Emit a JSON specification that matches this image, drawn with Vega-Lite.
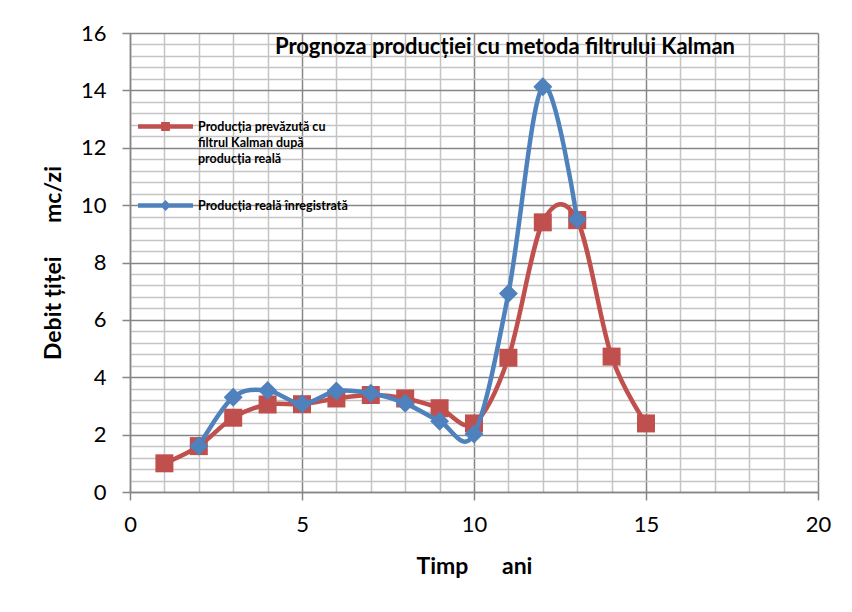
{
  "$schema": "https://vega.github.io/schema/vega-lite/v6.json",
  "width": 688,
  "height": 459,
  "autosize": "none",
  "padding": {"left": 130, "top": 33, "right": 34, "bottom": 120},
  "background": "white",
  "config": {
    "font": "Lato",
    "view": {"stroke": null},
    "axis": {"labelFont": "Lato", "titleFont": "Lato"}
  },
  "title": {
    "text": "Prognoza producției cu metoda filtrului Kalman",
    "font": "Lato",
    "fontSize": 22,
    "fontWeight": "bold",
    "color": "black",
    "anchor": "middle",
    "baseline": "alphabetic",
    "offset": -54,
    "dx": 31
  },
  "data": {
    "values": [
      {"t": 1, "v": 1.0, "serie": "Producția prevăzută cu filtrul Kalman după producția reală"},
      {"t": 2, "v": 1.6, "serie": "Producția prevăzută cu filtrul Kalman după producția reală"},
      {"t": 3, "v": 2.59, "serie": "Producția prevăzută cu filtrul Kalman după producția reală"},
      {"t": 4, "v": 3.05, "serie": "Producția prevăzută cu filtrul Kalman după producția reală"},
      {"t": 5, "v": 3.06, "serie": "Producția prevăzută cu filtrul Kalman după producția reală"},
      {"t": 6, "v": 3.26, "serie": "Producția prevăzută cu filtrul Kalman după producția reală"},
      {"t": 7, "v": 3.38, "serie": "Producția prevăzută cu filtrul Kalman după producția reală"},
      {"t": 8, "v": 3.26, "serie": "Producția prevăzută cu filtrul Kalman după producția reală"},
      {"t": 9, "v": 2.92, "serie": "Producția prevăzută cu filtrul Kalman după producția reală"},
      {"t": 10, "v": 2.39, "serie": "Producția prevăzută cu filtrul Kalman după producția reală"},
      {"t": 11, "v": 4.68, "serie": "Producția prevăzută cu filtrul Kalman după producția reală"},
      {"t": 12, "v": 9.4, "serie": "Producția prevăzută cu filtrul Kalman după producția reală"},
      {"t": 13, "v": 9.48, "serie": "Producția prevăzută cu filtrul Kalman după producția reală"},
      {"t": 14, "v": 4.72, "serie": "Producția prevăzută cu filtrul Kalman după producția reală"},
      {"t": 15, "v": 2.39, "serie": "Producția prevăzută cu filtrul Kalman după producția reală"},
      {"t": 2, "v": 1.6, "serie": "Producția reală înregistrată"},
      {"t": 3, "v": 3.3, "serie": "Producția reală înregistrată"},
      {"t": 4, "v": 3.54, "serie": "Producția reală înregistrată"},
      {"t": 5, "v": 3.07, "serie": "Producția reală înregistrată"},
      {"t": 6, "v": 3.52, "serie": "Producția reală înregistrată"},
      {"t": 7, "v": 3.44, "serie": "Producția reală înregistrată"},
      {"t": 8, "v": 3.09, "serie": "Producția reală înregistrată"},
      {"t": 9, "v": 2.47, "serie": "Producția reală înregistrată"},
      {"t": 10, "v": 2.02, "serie": "Producția reală înregistrată"},
      {"t": 11, "v": 6.92, "serie": "Producția reală înregistrată"},
      {"t": 12, "v": 14.13, "serie": "Producția reală înregistrată"},
      {"t": 13, "v": 9.5, "serie": "Producția reală înregistrată"}
    ]
  },
  "encoding": {
    "x": {
      "field": "t",
      "type": "quantitative",
      "scale": {"domain": [0, 20], "nice": false, "zero": false},
      "axis": {
        "title": "Timp\u00a0\u00a0\u00a0\u00a0\u00a0 ani",
        "titleFontSize": 23,
        "titleFontWeight": "bold",
        "titleColor": "black",
        "titlePadding": 20,
        "values": [0,1,2,3,4,5,6,7,8,9,10,11,12,13,14,15,16,17,18,19,20],
        "labelExpr": "datum.value % 5 === 0 ? format(datum.value, 'd') : ''",
        "labelFontSize": 22,
        "labelColor": "black",
        "labelFlush": false,
        "labelOverlap": false,
        "labelPadding": 14,
        "tickSize": 8,
        "tickWidth": 1.5,
        "tickColor": "#868686",
        "tickOpacity": {"condition": {"test": "datum.value % 5 === 0", "value": 1}, "value": 0},
        "domainColor": "#868686",
        "domainWidth": 1.5,
        "grid": true,
        "gridWidth": 1.5,
        "gridColor": {"condition": {"test": "datum.value % 5 === 0", "value": "#868686"}, "value": "#c4c4c4"}
      }
    },
    "y": {
      "field": "v",
      "type": "quantitative",
      "scale": {"domain": [0, 16], "nice": false},
      "axis": {
        "title": "Debit țiței\u00a0\u00a0\u00a0\u00a0\u00a0 mc/zi",
        "titleFontSize": 23,
        "titleFontWeight": "bold",
        "titleColor": "black",
        "titlePadding": 15,
        "values": [0,0.4,0.8,1.2,1.6,2,2.4,2.8,3.2,3.6,4,4.4,4.8,5.2,5.6,6,6.4,6.8,7.2,7.6,8,8.4,8.8,9.2,9.6,10,10.4,10.8,11.2,11.6,12,12.4,12.8,13.2,13.6,14,14.4,14.8,15.2,15.6,16],
        "labelExpr": "datum.value % 2 === 0 ? format(datum.value, 'd') : ''",
        "labelFontSize": 22,
        "labelColor": "black",
        "labelFlush": false,
        "labelOverlap": false,
        "labelPadding": 16,
        "tickSize": 8,
        "tickWidth": 1.5,
        "tickColor": "#868686",
        "tickOpacity": {"condition": {"test": "datum.value % 2 === 0", "value": 1}, "value": 0},
        "domainColor": "#868686",
        "domainWidth": 1.5,
        "grid": true,
        "gridWidth": 1.5,
        "gridColor": {"condition": {"test": "datum.value % 2 === 0", "value": "#868686"}, "value": "#c4c4c4"}
      }
    },
    "color": {
      "field": "serie",
      "type": "nominal",
      "scale": {
        "domain": ["Producția prevăzută cu filtrul Kalman după producția reală", "Producția reală înregistrată"],
        "range": ["#C0504D", "#4F81BD"]
      },
      "legend": {
        "title": null,
        "orient": "none",
        "legendX": 8,
        "legendY": 66,
        "direction": "vertical",
        "symbolSize": 3025,
        "labelFont": "Lato",
        "labelFontSize": 12.5,
        "labelFontWeight": "bold",
        "labelColor": "black",
        "labelLimit": 400,
        "labelOffset": 5,
        "rowPadding": 13,
        "labelExpr": "datum.value === 'Producția reală înregistrată' ? datum.label : ['Producția prevăzută cu', 'filtrul Kalman după', 'producția reală']",
        "encode": {
          "symbols": {
            "update": {
              "shape": {"signal": "datum.value === 'Producția reală înregistrată' ? 'M-1,-0.085H1V0.085H-1Z M0,-0.2L0.2,0L0,0.2L-0.2,0Z' : 'M-1,-0.085H1V0.085H-1Z M-0.16,-0.16H0.16V0.16H-0.16Z'"},
              "fill": {"signal": "datum.value === 'Producția reală înregistrată' ? '#4F81BD' : '#C0504D'"},
              "fillOpacity": {"value": 1},
              "opacity": {"value": 1},
              "strokeWidth": {"value": 0},
              "size": {"value": 3025}
            }
          },
          "labels": {
            "update": {"lineHeight": {"value": 16}}
          }
        }
      }
    }
  },
  "layer": [
    {
      "transform": [{"filter": "datum.serie !== 'Producția reală înregistrată'"}],
      "mark": {"type": "line", "interpolate": "cardinal", "strokeWidth": 4.5}
    },
    {
      "transform": [{"filter": "datum.serie !== 'Producția reală înregistrată'"}],
      "mark": {"type": "point", "shape": "square", "filled": true, "size": 324, "opacity": 1}
    },
    {
      "transform": [{"filter": "datum.serie === 'Producția reală înregistrată'"}],
      "mark": {"type": "line", "interpolate": "cardinal", "strokeWidth": 4.5}
    },
    {
      "transform": [{"filter": "datum.serie === 'Producția reală înregistrată'"}],
      "mark": {"type": "point", "shape": "diamond", "filled": true, "size": 360, "opacity": 1}
    }
  ]
}
